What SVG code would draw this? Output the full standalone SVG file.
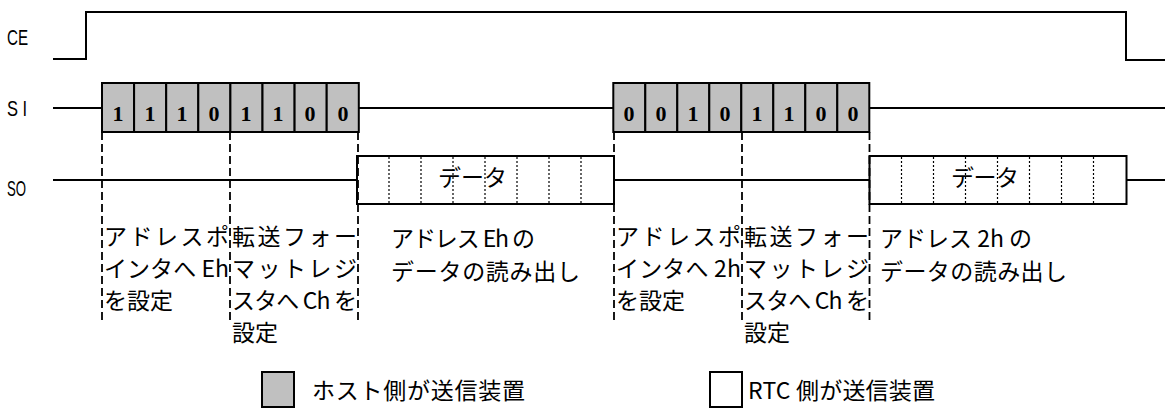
<svg xmlns="http://www.w3.org/2000/svg" width="1165" height="414" viewBox="0 0 1165 414">
<style>
.sig{fill:none;stroke:#000;stroke-width:2}
.cell{fill:#c0c0c0;stroke:#000;stroke-width:2}
.obox{fill:#fff;stroke:#000;stroke-width:2}
.dot{stroke:#000;stroke-width:1.2;stroke-dasharray:2,2}
.dash{stroke:#000;stroke-width:1.8;stroke-dasharray:8,4;fill:none}
.bit{font-family:"Liberation Serif",serif;font-weight:bold;font-size:22px;text-anchor:middle}
.lbl{font-family:"Liberation Sans",sans-serif;font-size:22px}
.jp{font-family:"Noto Sans CJK JP",sans-serif;font-size:23px}
</style>
<rect width="1165" height="414" fill="#fff"/>
<g id="signal-labels">
<text class="lbl" transform="translate(7,45) scale(0.69,1)">CE</text>
<text class="lbl" transform="translate(7,116) scale(0.75,1)">S I</text>
<text class="lbl" transform="translate(7,196) scale(0.6,1)">SO</text>
</g>
<g id="CE">
<polyline class="sig" points="53,59 86,59 86,12 1126,12 1126,60 1165,60"/>
</g>
<g id="SI-lines">
<line class="sig" x1="53" y1="108" x2="102" y2="108"/>
<line class="sig" x1="359" y1="108" x2="613" y2="108"/>
<line class="sig" x1="869" y1="108" x2="1165" y2="108"/>
</g>
<g id="SO-lines">
<line class="sig" x1="53" y1="180" x2="357" y2="180"/>
<line class="sig" x1="614" y1="180" x2="869" y2="180"/>
<line class="sig" x1="1127" y1="180" x2="1165" y2="180"/>
</g>
<g id="si-cmd1">
<rect class="cell" x="102" y="83" width="32.1" height="49"/>
<rect class="cell" x="134.1" y="83" width="32.1" height="49"/>
<rect class="cell" x="166.2" y="83" width="32.1" height="49"/>
<rect class="cell" x="198.3" y="83" width="32.1" height="49"/>
<rect class="cell" x="230.4" y="83" width="32.1" height="49"/>
<rect class="cell" x="262.5" y="83" width="32.1" height="49"/>
<rect class="cell" x="294.6" y="83" width="32.1" height="49"/>
<rect class="cell" x="326.7" y="83" width="32.1" height="49"/>
<text class="bit" x="118" y="121">1</text>
<text class="bit" x="150" y="121">1</text>
<text class="bit" x="182" y="121">1</text>
<text class="bit" x="214" y="121">0</text>
<text class="bit" x="246" y="121">1</text>
<text class="bit" x="278" y="121">1</text>
<text class="bit" x="310" y="121">0</text>
<text class="bit" x="343" y="121">0</text>
</g>
<g id="si-cmd2">
<rect class="cell" x="613.3" y="83" width="32" height="49"/>
<rect class="cell" x="645.3" y="83" width="32" height="49"/>
<rect class="cell" x="677.3" y="83" width="32" height="49"/>
<rect class="cell" x="709.3" y="83" width="32" height="49"/>
<rect class="cell" x="741.3" y="83" width="32" height="49"/>
<rect class="cell" x="773.3" y="83" width="32" height="49"/>
<rect class="cell" x="805.3" y="83" width="32" height="49"/>
<rect class="cell" x="837.3" y="83" width="32" height="49"/>
<text class="bit" x="629" y="121">0</text>
<text class="bit" x="661" y="121">0</text>
<text class="bit" x="693" y="121">1</text>
<text class="bit" x="725" y="121">0</text>
<text class="bit" x="757" y="121">1</text>
<text class="bit" x="789" y="121">1</text>
<text class="bit" x="821" y="121">0</text>
<text class="bit" x="853" y="121">0</text>
</g>
<g id="so-data1">
<rect class="obox" x="357" y="156" width="257" height="48"/>
<line class="dot" x1="389" y1="157" x2="389" y2="203"/>
<line class="dot" x1="421" y1="157" x2="421" y2="203"/>
<line class="dot" x1="453" y1="157" x2="453" y2="203"/>
<line class="dot" x1="485" y1="157" x2="485" y2="203"/>
<line class="dot" x1="517" y1="157" x2="517" y2="203"/>
<line class="dot" x1="549" y1="157" x2="549" y2="203"/>
<line class="dot" x1="581" y1="157" x2="581" y2="203"/>
<text class="jp" x="438" y="186" textLength="69" lengthAdjust="spacing">データ</text>
</g>
<g id="so-data2">
<rect class="obox" x="869.5" y="156" width="257" height="48"/>
<line class="dot" x1="901.5" y1="157" x2="901.5" y2="203"/>
<line class="dot" x1="933.5" y1="157" x2="933.5" y2="203"/>
<line class="dot" x1="965.5" y1="157" x2="965.5" y2="203"/>
<line class="dot" x1="997.5" y1="157" x2="997.5" y2="203"/>
<line class="dot" x1="1029.5" y1="157" x2="1029.5" y2="203"/>
<line class="dot" x1="1061.5" y1="157" x2="1061.5" y2="203"/>
<line class="dot" x1="1093.5" y1="157" x2="1093.5" y2="203"/>
<text class="jp" x="951" y="186" textLength="68" lengthAdjust="spacing">データ</text>
</g>
<g id="connectors">
<line class="dash" x1="102" y1="132" x2="102" y2="324"/>
<line class="dash" x1="230" y1="132" x2="230" y2="324"/>
<line class="dash" x1="358" y1="132" x2="358" y2="324"/>
<line class="dash" x1="614" y1="132" x2="614" y2="324"/>
<line class="dash" x1="742" y1="132" x2="742" y2="324"/>
<line class="dash" x1="869.5" y1="132" x2="869.5" y2="324"/>
</g>
<g id="desc1">
<text class="jp" x="104" y="245" textLength="125" lengthAdjust="spacing">アドレスポ</text>
<text class="jp" x="104" y="277" textLength="125" lengthAdjust="spacing">インタへ Eh</text>
<text class="jp" x="104" y="309" textLength="69" lengthAdjust="spacing">を設定</text>
</g>
<g id="desc2">
<text class="jp" x="232" y="245" textLength="125" lengthAdjust="spacing">転送フォー</text>
<text class="jp" x="232" y="277" textLength="125" lengthAdjust="spacing">マットレジ</text>
<text class="jp" x="232" y="309" textLength="125" lengthAdjust="spacing">スタへ Ch を</text>
<text class="jp" x="232" y="341" textLength="46" lengthAdjust="spacing">設定</text>
</g>
<g id="desc3">
<text class="jp" x="391" y="247" textLength="144" lengthAdjust="spacing">アドレス Eh の</text>
<text class="jp" x="391" y="280" textLength="189" lengthAdjust="spacing">データの読み出し</text>
</g>
<g id="desc4">
<text class="jp" x="616" y="245" textLength="125" lengthAdjust="spacing">アドレスポ</text>
<text class="jp" x="616" y="277" textLength="125" lengthAdjust="spacing">インタへ 2h</text>
<text class="jp" x="616" y="309" textLength="69" lengthAdjust="spacing">を設定</text>
</g>
<g id="desc5">
<text class="jp" x="744" y="245" textLength="125" lengthAdjust="spacing">転送フォー</text>
<text class="jp" x="744" y="277" textLength="125" lengthAdjust="spacing">マットレジ</text>
<text class="jp" x="744" y="309" textLength="125" lengthAdjust="spacing">スタへ Ch を</text>
<text class="jp" x="744" y="341" textLength="46" lengthAdjust="spacing">設定</text>
</g>
<g id="desc6">
<text class="jp" x="880" y="247" textLength="152" lengthAdjust="spacing">アドレス 2h の</text>
<text class="jp" x="880" y="280" textLength="187" lengthAdjust="spacing">データの読み出し</text>
</g>
<g id="legend-host">
<rect class="cell" x="262" y="372" width="32" height="35"/>
<text class="jp" x="312" y="399" textLength="213" lengthAdjust="spacing">ホスト側が送信装置</text>
</g>
<g id="legend-rtc">
<rect class="obox" x="710" y="372" width="32" height="35"/>
<text class="jp" x="748" y="399" textLength="187" lengthAdjust="spacing">RTC 側が送信装置</text>
</g>
</svg>
